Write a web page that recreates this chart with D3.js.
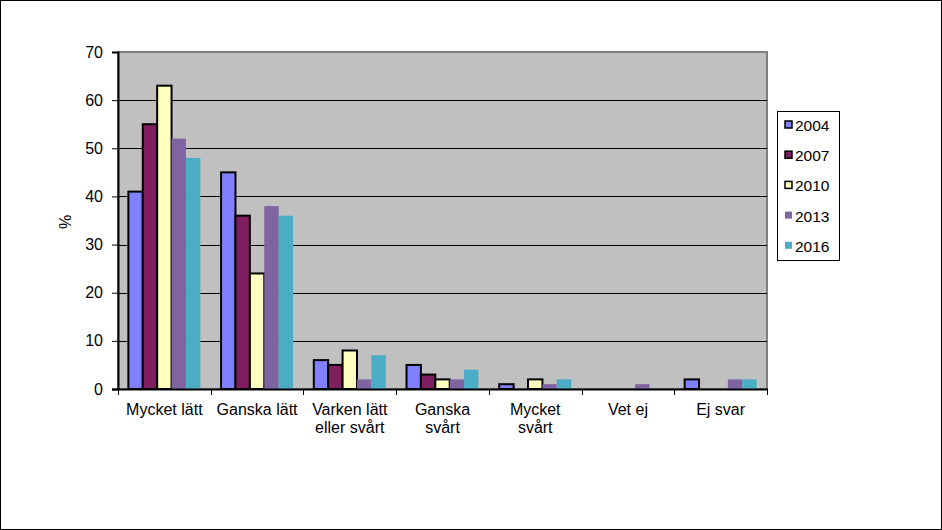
<!DOCTYPE html>
<html>
<head>
<meta charset="utf-8">
<script src="https://cdn.jsdelivr.net/npm/d3@7"></script>
<style>
	body { margin: 0; background: #fff; }
	svg { display: block; font-family: Arial, "Liberation Sans", sans-serif; }
</style>
</head>
<body>
<svg id="chart" width="942" height="530"></svg>
<script>
// Data
var categories = [['Mycket lätt'], ['Ganska lätt'], ['Varken lätt', 'eller svårt'], ['Ganska', 'svårt'], ['Mycket', 'svårt'], ['Vet ej'], ['Ej svar']];
var years = ['2004', '2007', '2010', '2013', '2016'];
var v2004 = [41, 45, 6, 5, 1, 0, 2];
var v2007 = [55, 36, 5, 3, 0, 0, 0];
var v2010 = [63, 24, 8, 2, 2, 0, 0];
var v2013 = [52, 38, 2, 2, 1, 1, 2];
var v2016 = [48, 36, 7, 4, 2, 0, 2];
var yTicks = [0, 10, 20, 30, 40, 50, 60, 70];

var series = [v2004, v2007, v2010, v2013, v2016];
var colors = ['#8080ff', '#7f1f5f', '#ffffc0', '#8064a2', '#4bacc6'];
var outlined = [true, true, true, false, false];

var svg = d3.select('#chart');

// outer frame
svg.append('rect')
	.attr('x', 0.5).attr('y', 0.5)
	.attr('width', 941).attr('height', 529)
	.attr('fill', '#fff').attr('stroke', '#000');

var pLeft = 118, pRight = 767, pTop = 52, pBottom = 389;

var x = d3.scaleBand()
	.domain(d3.range(categories.length))
	.range([pLeft, pRight]);

var y = d3.scaleLinear()
	.domain([0, 70])
	.range([pBottom, pTop]);

var inner = d3.scaleBand()
	.domain(d3.range(years.length))
	.range([0, x.bandwidth()])
	.paddingOuter(0.72);

// plot area
svg.append('rect')
	.attr('x', pLeft).attr('y', pTop)
	.attr('width', pRight - pLeft).attr('height', pBottom - pTop)
	.attr('fill', '#c0c0c0')
	.attr('stroke', '#808080').attr('stroke-width', 2);

// gridlines
svg.append('g').selectAll('line')
	.data(yTicks.filter(function(d) { return d > 0 && d < 70; }))
	.enter().append('line')
	.attr('x1', pLeft).attr('x2', pRight)
	.attr('y1', function(d) { return Math.round(y(d)) + 0.5; })
	.attr('y2', function(d) { return Math.round(y(d)) + 0.5; })
	.attr('stroke', '#000');

// bars
var groups = svg.append('g').selectAll('g')
	.data(series)
	.enter().append('g')
	.attr('fill', function(d, i) { return colors[i]; });

groups.each(function(vals, si) {
	d3.select(this).selectAll('rect')
		.data(vals.map(function(v, ci) { return { v: v, c: ci }; }).filter(function(d) { return d.v > 0; }))
		.enter().append('rect')
		.attr('x', function(d) { return x(d.c) + inner(si); })
		.attr('y', function(d) { return y(d.v); })
		.attr('width', inner.bandwidth())
		.attr('height', function(d) { return pBottom - y(d.v); })
		.attr('stroke', outlined[si] ? '#000' : 'none')
		.attr('stroke-width', outlined[si] ? 2 : 0);
});

// y axis
var yAxis = d3.axisLeft(y)
	.tickValues(yTicks)
	.tickSize(6)
	.tickPadding(9);

svg.append('g')
	.attr('transform', 'translate(' + pLeft + ',0)')
	.call(yAxis)
	.call(function(g) {
		g.select('.domain').attr('stroke', '#000').attr('stroke-width', 2);
		g.selectAll('.tick line').attr('stroke', '#000');
		g.selectAll('text').attr('font-size', 16).attr('fill', '#000')
			.attr('font-family', 'Arial, "Liberation Sans", sans-serif');
	});

// x axis
svg.append('line')
	.attr('x1', pLeft - 6).attr('x2', pRight + 1)
	.attr('y1', pBottom + 0.5).attr('y2', pBottom + 0.5)
	.attr('stroke', '#000').attr('stroke-width', 2);

svg.append('g').selectAll('line')
	.data(d3.range(categories.length + 1))
	.enter().append('line')
	.attr('x1', function(d) { return Math.round(pLeft + d * x.step()) + 0.5; })
	.attr('x2', function(d) { return Math.round(pLeft + d * x.step()) + 0.5; })
	.attr('y1', pBottom).attr('y2', pBottom + 6)
	.attr('stroke', '#000');

var xl = svg.append('g').selectAll('text')
	.data(categories)
	.enter().append('text')
	.attr('x', function(d, i) { return x(i) + x.bandwidth() / 2; })
	.attr('y', 415)
	.attr('text-anchor', 'middle')
	.attr('font-size', 16)
	.attr('fill', '#000');

xl.selectAll('tspan')
	.data(function(d) { return d; })
	.enter().append('tspan')
	.attr('x', function() { return d3.select(this.parentNode).attr('x'); })
	.attr('dy', function(d, i) { return i ? 18 : 0; })
	.text(function(d) { return d; });

// y label
svg.append('text')
	.attr('transform', 'translate(71,222) rotate(-90)')
	.attr('text-anchor', 'middle')
	.attr('font-size', 16)
	.text('%');

// legend
var legend = svg.append('g').attr('transform', 'translate(777,111)');
legend.append('rect')
	.attr('x', 0.5).attr('y', 0.5)
	.attr('width', 62).attr('height', 149)
	.attr('fill', '#fff').attr('stroke', '#000');

var li = legend.selectAll('g.item')
	.data(years)
	.enter().append('g')
	.attr('class', 'item')
	.attr('transform', function(d, i) { return 'translate(0,' + (14 + i * 30.2) + ')'; });

li.append('rect')
	.attr('x', 8).attr('y', -4)
	.attr('width', 7).attr('height', 7)
	.attr('fill', function(d, i) { return colors[i]; })
	.attr('stroke', function(d, i) { return outlined[i] ? '#000' : 'none'; })
	.attr('stroke-width', 1.5);

li.append('text')
	.attr('x', 18).attr('y', 6)
	.attr('font-size', 15.5)
	.text(function(d) { return d; });
</script>
</body>
</html>
